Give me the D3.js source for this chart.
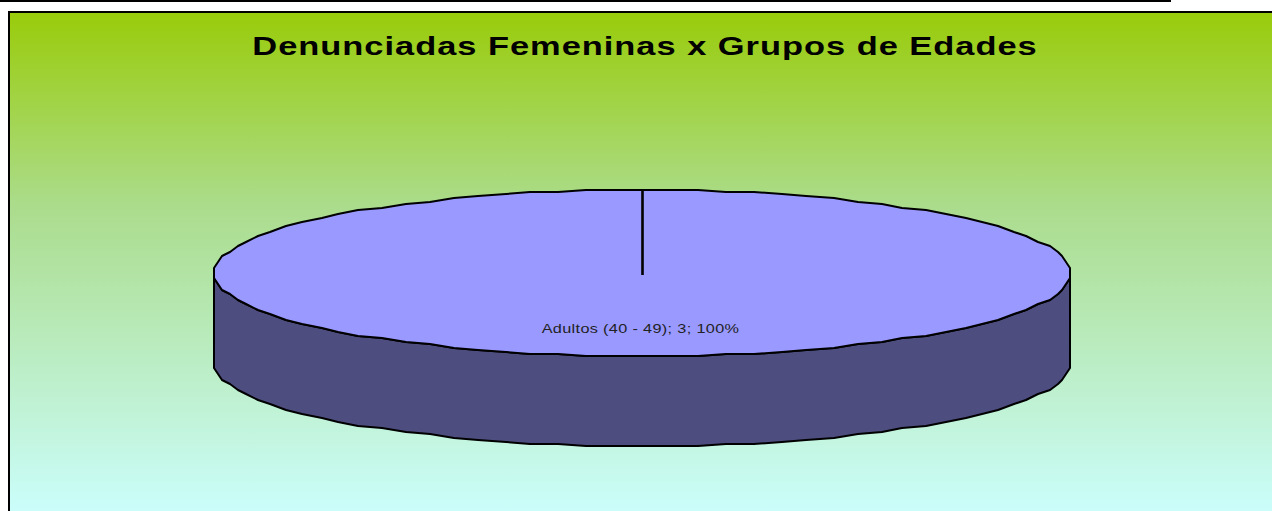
<!DOCTYPE html>
<html>
<head>
<meta charset="utf-8">
<script src="https://cdn.jsdelivr.net/npm/d3@7"></script>
<style>
html, body { margin: 0; padding: 0; background: #fff; overflow: hidden; }
svg { display: block; font-family: "Liberation Sans", Arial, sans-serif; }
</style>
</head>
<body>
<div id="chart"></div>
<script>
const categories = ["Adultos (40 - 49)"];
const values = [3];
const chartTitle = "Denunciadas Femeninas x Grupos de Edades";

const width = 1272, height = 511;

const svg = d3.select("#chart").append("svg")
    .attr("width", width)
    .attr("height", height);

// background gradient of the chart area
const grad = svg.append("defs").append("linearGradient")
    .attr("id", "bg")
    .attr("x1", 0).attr("x2", 0).attr("y1", 0).attr("y2", 1);
grad.append("stop").attr("offset", "0%").attr("stop-color", "#99cc0a");
grad.append("stop").attr("offset", "38%").attr("stop-color", "#abdc8c");
grad.append("stop").attr("offset", "100%").attr("stop-color", "#ccffff");

// rule at the very top of the page
svg.append("rect").attr("x", 0).attr("y", 0).attr("width", 1171).attr("height", 2).attr("fill", "#000");

svg.append("rect")
    .attr("x", 9).attr("y", 12)
    .attr("width", width).attr("height", height)
    .attr("fill", "url(#bg)")
    .attr("stroke", "#000")
    .attr("stroke-width", 2);

// original text is stretched sideways, so scale x around the anchor
svg.append("text")
    .attr("transform", "translate(645,55) scale(1.3,1)")
    .attr("text-anchor", "middle")
    .attr("font-size", 26.5)
    .attr("font-weight", "bold")
    .attr("letter-spacing", 0.75)
    .text(chartTitle);

// pie geometry
const cx = 642.5, cy = 273, rx = 428.5, ry = 83, depth = 90;
const xPos = d3.scaleLinear().domain([-1, 1]).range([cx - rx, cx + rx]);
const yPos = d3.scaleLinear().domain([-1, 1]).range([cy - ry, cy + ry]);

const slices = d3.pie().sort(null)(values);
const slice = slices[0];

// the original outline is a coarse polygon, so sample the rim and snap it
const snap = (v, size, from) => from + Math.round((v - from) / size) * size;
const step = (slice.endAngle - slice.startAngle) / 96;
const rim = d3.range(0, 96).map(i => {
    const a = slice.startAngle + i * step;
    return {
        a: a,
        x: snap(xPos(Math.sin(a)), 4, cx - rx),
        y: snap(yPos(-Math.cos(a)), 2, 0)
    };
});
const line = d3.line().x(d => d.x).y(d => d.y);

// front wall, only the lower half of the rim
const front = rim.filter(p => p.a >= Math.PI / 2 && p.a <= Math.PI * 1.5);
const wall = front.concat(front.slice().reverse().map(p => ({ x: p.x, y: p.y + depth })));
svg.append("path")
    .attr("d", line(wall) + "Z")
    .attr("fill", "#4d4d7f")
    .attr("stroke", "#000")
    .attr("stroke-width", 2)
    .attr("stroke-linejoin", "round");

svg.append("path")
    .attr("d", line(rim) + "Z")
    .attr("fill", "#9999ff")
    .attr("stroke", "#000")
    .attr("stroke-width", 2)
    .attr("stroke-linejoin", "round");

// slice edge from rim to centre
svg.append("line")
    .attr("x1", xPos(0)).attr("x2", xPos(0))
    .attr("y1", yPos(-1)).attr("y2", yPos(0) + 2)
    .attr("stroke", "#000")
    .attr("stroke-width", 2.6);

svg.append("text")
    .attr("transform", "translate(640.5,333) scale(1.3,1)")
    .attr("text-anchor", "middle")
    .attr("font-size", 12.5)
    .attr("letter-spacing", 0.27)
    .attr("fill", "#222")
    .text(`${categories[0]}; ${values[0]}; ${d3.format(".0%")(values[0] / d3.sum(values))}`);
</script>
</body>
</html>
